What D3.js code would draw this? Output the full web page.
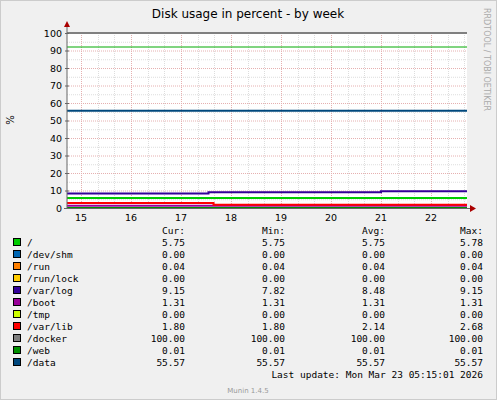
<!DOCTYPE html><html><head><meta charset="utf-8"><script src="https://cdn.jsdelivr.net/npm/d3@7"></script>
<style>body{margin:0;background:#f0f0f0}</style></head><body><svg id="c" width="497" height="400"></svg>
<script>
const names=["/","/dev/shm","/run","/run/lock","/var/log","/boot","/tmp","/var/lib","/docker","/web","/data"];
const colors=["#00cc00","#0066b3","#ff8000","#ffcc00","#330099","#990099","#ccff00","#ff0000","#808080","#008f00","#00487d"];
const cur=["5.75","0.00","0.04","0.00","9.15","1.31","0.00","1.80","100.00","0.01","55.57"];
const mins=["5.75","0.00","0.04","0.00","7.82","1.31","0.00","1.80","100.00","0.01","55.57"];
const avgs=["5.75","0.00","0.04","0.00","8.48","1.31","0.00","2.14","100.00","0.01","55.57"];
const maxs=["5.78","0.00","0.04","0.00","9.15","1.31","0.00","2.68","100.00","0.01","55.57"];
const series=[
 [[14.72,5.75],[22.72,5.75]],
 [[14.72,0],[22.72,0]],
 [[14.72,0.04],[22.72,0.04]],
 [[14.72,0],[22.72,0]],
 [[14.72,8.3],[17.55,9.0],[21.0,9.6],[22.72,9.6]],
 [[14.72,1.31],[22.72,1.31]],
 [[14.72,0],[22.72,0]],
 [[14.72,2.9],[17.65,1.8],[22.72,1.8]],
 [[14.72,100],[22.72,100]],
 [[14.72,0.01],[22.72,0.01]],
 [[14.72,55.57],[22.72,55.57]]
];
const dayTicks=[15,16,17,18,19,20,21,22];
const yTicks=[0,10,20,30,40,50,60,70,80,90,100];
const warn=92;
const svg=d3.select("#c");
svg.append("rect").attr("width",497).attr("height",400).attr("fill","#f0f0f0");
svg.append("rect").attr("x",0.5).attr("y",0.5).attr("width",496).attr("height",399).attr("fill","none").attr("stroke","#ccc");
const L=67,R=467,T=33,B=208;
const x=d3.scaleLinear().domain([14.72,22.72]).range([L,R]);
const y=d3.scaleLinear().domain([0,100]).range([B,T]);
svg.append("rect").attr("x",L).attr("y",T).attr("width",R-L).attr("height",B-T).attr("fill","#fff");
const g=svg.append("g");
for(let v=5;v<=100;v+=5) g.append("line").attr("x1",L).attr("x2",R).attr("y1",y(v)+.5).attr("y2",y(v)+.5).attr("stroke",v%10?"#ddd":"#e6b0b0").attr("stroke-dasharray","1,1");
for(let d=15;d<22.72;d+=1/3) g.append("line").attr("x1",Math.round(x(d))+.5).attr("x2",Math.round(x(d))+.5).attr("y1",T).attr("y2",B).attr("stroke",Math.abs(d-Math.round(d))<0.01?"#e6b0b0":"#ddd").attr("stroke-dasharray","1,1");
const line=d3.line().x(d=>x(d[0])).y(d=>y(d[1])).curve(d3.curveStepAfter);
g.append("line").attr("x1",L).attr("x2",R).attr("y1",y(warn)).attr("y2",y(warn)).attr("stroke","#00aa00").attr("stroke-width",1);
[8,10,0,1,2,3,6,9,5,7,4].forEach(i=>g.append("path").attr("d",line(series[i])).attr("fill","none").attr("stroke",colors[i]).attr("stroke-width",2));
svg.append("line").attr("x1",L).attr("x2",L).attr("y1",B+1).attr("y2",T-7).attr("stroke","#666");
svg.append("line").attr("x1",L-3).attr("x2",R+3).attr("y1",B+.5).attr("y2",B+.5).attr("stroke","#666");
svg.append("path").attr("d",`M${L-3},${T-6}L${L+3},${T-6}L${L},${T-12}Z`).attr("fill","#a00");
svg.append("path").attr("d",`M${R+3},${B-3}L${R+3},${B+4}L${R+9},${B+.5}Z`).attr("fill","#a00");
const ff="DejaVu Sans, sans-serif";
yTicks.forEach(v=>{svg.append("text").attr("x",L-5).attr("y",y(v)+3.5).attr("text-anchor","end").attr("font-family",ff).attr("font-size",9.5).text(v);
 svg.append("line").attr("x1",L-2).attr("x2",L+2).attr("y1",y(v)+.5).attr("y2",y(v)+.5).attr("stroke","#666");});
dayTicks.forEach(d=>svg.append("text").attr("x",x(d)).attr("y",B+13).attr("text-anchor","middle").attr("font-family",ff).attr("font-size",9.5).text(d));
svg.append("text").attr("x",248).attr("y",18).attr("text-anchor","middle").attr("font-family",ff).attr("font-size",12).text("Disk usage in percent - by week");
svg.append("text").attr("transform","translate(14,120) rotate(-90)").attr("text-anchor","middle").attr("font-family",ff).attr("font-size",10).text("%");
svg.append("text").attr("transform","translate(484,8) rotate(90)").attr("text-anchor","start").attr("font-family",ff).attr("font-size",8).attr("fill","#aaa").text("RRDTOOL / TOBI OETIKER");
const mf="DejaVu Sans Mono, monospace";
[["Cur:",185],["Min:",285],["Avg:",385],["Max:",483]].forEach(h=>svg.append("text").attr("x",h[1]).attr("y",234).attr("text-anchor","end").attr("font-family",mf).attr("font-size",9.5).text(h[0]));
names.forEach((n,i)=>{const yy=246+i*12;
 svg.append("rect").attr("x",13.5).attr("y",yy-7.5).attr("width",7).attr("height",7).attr("fill",colors[i]).attr("stroke","#000");
 svg.append("text").attr("x",27).attr("y",yy).attr("font-family",mf).attr("font-size",9.5).text(n);
 [[cur,185],[mins,285],[avgs,385],[maxs,483]].forEach(c=>svg.append("text").attr("x",c[1]).attr("y",yy).attr("text-anchor","end").attr("font-family",mf).attr("font-size",9.5).text(c[0][i]));
});
svg.append("text").attr("x",483).attr("y",378).attr("text-anchor","end").attr("font-family",mf).attr("font-size",9.5).text("Last update: Mon Mar 23 05:15:01 2026");
svg.append("text").attr("x",248).attr("y",393).attr("text-anchor","middle").attr("font-family",ff).attr("font-size",7).attr("fill","#999").text("Munin 1.4.5");
</script></body></html>
